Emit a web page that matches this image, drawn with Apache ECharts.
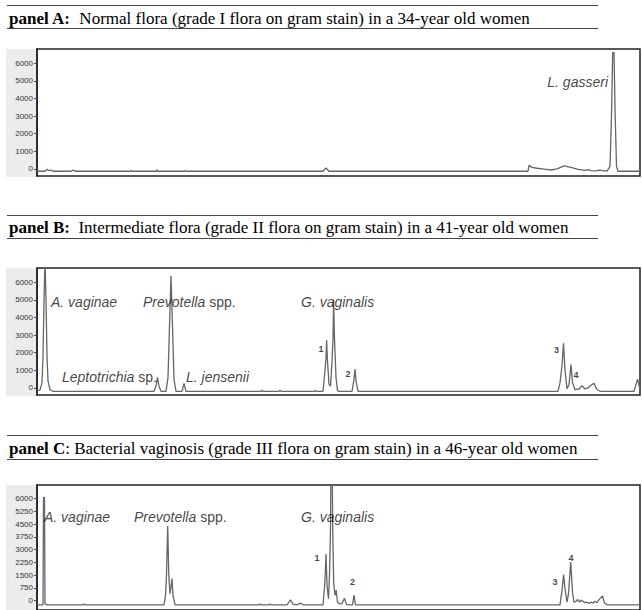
<!DOCTYPE html>
<html><head><meta charset="utf-8">
<script src="https://cdn.jsdelivr.net/npm/echarts@6/dist/echarts.min.js"></script>
<style>html,body{margin:0;padding:0;background:#fff}#c{width:642px;height:610px}</style>
</head><body><div id="c"></div>
<script>
// ---- data (x: relative fragment position, y: fluorescence units) ----
const titlesBold = ['panel A:', 'panel B:', 'panel C'];
const titlesRest = [
  '  Normal flora (grade I flora on gram stain) in a 34-year old women',
  '  Intermediate flora (grade II flora on gram stain) in a 41-year old women',
  ': Bacterial vaginosis (grade III flora on gram stain) in a 46-year old women'
];
const ticksAB = [0, 1000, 2000, 3000, 4000, 5000, 6000];
const ticksC = [0, 750, 1500, 2250, 3000, 3750, 4500, 5250, 6000];
const yRangeA = [-400, 6800];
const yRangeB = [-400, 6800];
const yRangeC = [-560, 6810];
const xRange = [0, 603];

const traceA = [
  [0,-130],[8,-130],[10,-20],[12,-100],[14,-60],[16,-130],[34,-130],[36,-70],[38,-130],
  [93,-130],[94,-90],[95,-130],[119,-130],[120,-60],[121,-130],[147,-130],[148,-90],[149,-130],
  [286,-130],[289,50],[292,-130],[491,-130],[492,200],[495,90],[500,40],[507,-10],[514,-60],
  [520,0],[527,170],[534,90],[541,-20],[548,-80],[551,-40],[554,-90],[559,-110],[562,-70],
  [570,-120],[573,150],[574.5,3000],[575.7,6600],[577,6600],[578.2,3000],[579.5,150],[581,-130],[603,-130]
];
const traceB = [
  [0,-150],[3,-120],[5,300],[6,1800],[7,5000],[8,7200],[9,5000],[10,1800],[11,400],[13,-100],[16,-190],
  [117,-190],[119,100],[120.5,600],[122,100],[124,-190],
  [129,-190],[131,600],[132.5,3500],[134,6350],[135.5,3500],[137,500],[139,-190],
  [145,-190],[147,260],[149,-190],
  [224,-190],[225,-130],[226,-190],[242,-190],[243,-120],[244,-190],[277,-190],[278,-140],[279,-190],
  [286,-190],[288,1000],[289,1730],[289.6,2715],[290.5,1500],[292,200],[293.5,100],[295,1500],
  [296,2770],[296.6,5000],[297.5,2770],[299,600],[300.5,-150],[302,-190],
  [315,-190],[317,500],[318,1075],[319,400],[321,-190],
  [521,-190],[523,300],[525,1260],[526.5,2525],[528,1000],[530,-50],[532,200],[534,1320],[535.5,300],
  [538,-100],[542,-60],[545,130],[548,-60],[551,0],[554,150],[557,260],[560,-100],[563,-190],
  [597,-190],[599,200],[600.6,500],[602,150],[603,-100]
];
const traceC = [
  [0,-255],[6,-255],[6.5,6075],[7.5,6075],[8,-200],[10,-255],
  [46,-255],[47,-200],[48,-255],
  [127,-255],[128.5,300],[129.5,1500],[130.7,4390],[131.8,1500],[133,400],[134,800],[135,1295],[136,300],[138,-255],
  [222,-255],[223,-200],[224,-255],[232,-255],[233,-200],[234,-255],
  [250,-255],[253.5,40],[256,-220],[260,-255],[263.5,-150],[266,-255],
  [286,-255],[287.5,800],[288.3,1650],[289,2745],[290,900],[291.5,100],[292.5,1500],[293.5,4200],
  [294.2,9500],[295,9500],[295.7,4200],[296.7,1000],[298,300],[299.2,615],[300.5,-100],[303,-200],
  [305,-180],[307.4,134],[309.5,-230],[312,-255],
  [315.5,-255],[317,325],[318.5,-255],
  [523,-255],[525,600],[526.6,1527],[528,700],[530,-100],[531.5,400],[533.7,2265],[535.5,500],[537,-100],
  [539,-50],[540.5,60],[542.5,-100],[544,20],[546,-50],[548,-130],[550,-100],[552,-180],[554,-100],
  [556,-150],[558,-50],[560,-120],[562,50],[565.5,270],[567.5,-150],[570,-255],[603,-255]
];

// species annotations: [x, y, italic part, plain part]
const speciesA = [[571, 4925, 'L. gasseri', '']];
const speciesB = [[14, 4845, 'A. vaginae', ''], [106, 4845, 'Prevotella', ' spp.'], [264, 4845, 'G. vaginalis', ''],
                  [25, 640, 'Leptotrichia', ' sp.'], [149, 640, 'L. jensenii', '']];
const speciesC = [[7, 4913, 'A. vaginae', ''], [97, 4913, 'Prevotella', ' spp.'], [264, 4913, 'G. vaginalis', '']];
// numbered peaks: [x, y, label]
const numbersB = [[284, 2207, '1'], [311, 792, '2'], [519.6, 2167, '3'], [539, 753, '4']];
const numbersC = [[280, 2497, '1'], [315.6, 1103, '2'], [518, 1103, '3'], [534, 2514, '4']];

// ---- layout ----
const gridTops = [49, 268, 485];
const gridH = 127;
const titleMid = [18, 227, 448];
const ruleY = [[5.5, 28.5], [215.5, 238.5], [435.5, 459.5]];
const serif = '"Liberation Serif","Times New Roman",serif';
const sans = '"Liberation Sans",Arial,sans-serif';

const chart = echarts.init(document.getElementById('c'), null, {renderer: 'svg'});

const traces = [traceA, traceB, traceC];
const yRanges = [yRangeA, yRangeB, yRangeC];
const ticks = [ticksAB, ticksAB, ticksC];
const species = [speciesA, speciesB, speciesC];
const numbers = [[], numbersB, numbersC];

const grid = [], xAxis = [], yAxis = [], series = [], title = [], graphic = [];
for (let i = 0; i < 3; i++) {
  grid.push({left: 37, right: 2, top: gridTops[i], height: gridH, show: true,
    borderColor: '#222', borderWidth: 1.5, backgroundColor: '#fff'});
  xAxis.push({gridIndex: i, type: 'value', min: xRange[0], max: xRange[1], show: false});
  yAxis.push({gridIndex: i, type: 'value', min: yRanges[i][0], max: yRanges[i][1],
    splitLine: {show: false},
    axisLine: {show: true, lineStyle: {color: '#222', width: 1.5}},
    axisTick: {show: true, inside: false, length: 3, customValues: ticks[i], lineStyle: {color: '#444'}},
    axisLabel: {customValues: ticks[i], fontSize: 8, color: '#333', margin: 4, fontFamily: sans,
      formatter: v => String(v)}
  });
  series.push({type: 'line', xAxisIndex: i, yAxisIndex: i, data: traces[i], symbol: 'none',
    showSymbol: false, clip: true, silent: true, animation: false, z: 3,
    lineStyle: {color: '#666', width: 1.3}});
  const sp = species[i];
  series.push({type: 'scatter', xAxisIndex: i, yAxisIndex: i, symbolSize: 0, silent: true, animation: false, z: 5,
    data: sp.map(d => ({value: [d[0], d[1]], it: d[2], rest: d[3]})),
    label: {show: true, position: i === 0 ? 'left' : 'right', distance: 0,
      formatter: p => '{i|' + p.data.it + '}' + (p.data.rest ? '{n|' + p.data.rest + '}' : ''),
      rich: {
        i: {fontStyle: 'italic', fontSize: 14, fontFamily: sans, color: '#111'},
        n: {fontSize: 14, fontFamily: sans, color: '#111'}
      }}
  });
  if (numbers[i].length) {
    series.push({type: 'scatter', xAxisIndex: i, yAxisIndex: i, symbolSize: 0, silent: true, animation: false, z: 5,
      data: numbers[i].map(d => ({value: [d[0], d[1]], name: d[2]})),
      label: {show: true, position: 'inside', formatter: '{b}', fontSize: 9, fontWeight: 'bold',
        fontFamily: sans, color: '#111'}
    });
  }
  title.push({left: 9, top: titleMid[i] - 10, padding: 0,
    text: '{b|' + titlesBold[i] + '}{n|' + titlesRest[i] + '}',
    textStyle: {fontWeight: 'normal', fontSize: 17, fontFamily: serif, color: '#000', rich: {
      b: {fontWeight: 'bold', fontSize: 17, lineHeight: 20, fontFamily: serif, color: '#000'},
      n: {fontWeight: 'normal', fontSize: 17, lineHeight: 20, fontFamily: serif, color: '#000'}
    }}
  });
  for (const y of ruleY[i]) {
    graphic.push({type: 'line', shape: {x1: 7, y1: y, x2: 598, y2: y}, style: {stroke: '#444', lineWidth: 1.2}, silent: true});
  }
  graphic.push({type: 'rect', z: -10, shape: {x: 6, y: gridTops[i], width: 31, height: gridH + 1},
    style: {fill: '#ececec'}, silent: true});
}

chart.setOption({animation: false, backgroundColor: '#fff', title, grid, xAxis, yAxis, series, graphic});
</script></body></html>
